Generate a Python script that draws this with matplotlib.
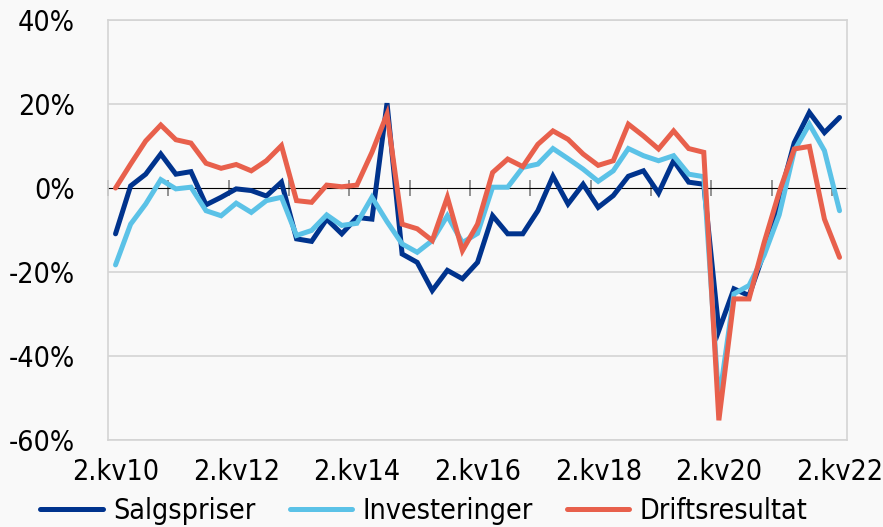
import matplotlib
matplotlib.use("Agg")
import matplotlib.pyplot as plt
import numpy as np

# quarterly change, 2.kv10 .. 2.kv22 (49 quarters)
salgspriser = [-10.9, 0.5, 3.3, 8.1, 3.3, 3.9, -4.0, -2.2, -0.2, -0.6,
               -1.9, 1.4, -12.1, -12.7, -7.4, -10.9, -7.0, -7.4, 20.2, -15.7,
               -17.7, -24.4, -19.6, -21.6, -17.7, -6.6, -10.9, -10.9, -5.4, 2.8,
               -3.8, 0.9, -4.6, -1.8, 2.8, 4.1, -1.2, 6.5, 1.4, 0.9,
               -33.9, -24.0, -25.6, -15.3, -2.6, 10.8, 18.0, 13.2, 16.8]
investeringer = [-18.3, -8.6, -3.8, 2.0, -0.2, 0.2, -5.4, -6.6, -3.6, -5.8,
                 -3.0, -2.2, -11.3, -10.1, -6.4, -8.9, -8.4, -2.2, -8.0, -13.3,
                 -15.3, -12.5, -6.6, -13.0, -10.8, 0.2, 0.2, 4.9, 5.7, 9.4,
                 7.0, 4.5, 1.6, 4.1, 9.4, 7.7, 6.5, 7.7, 3.3, 2.7,
                 -50.9, -25.2, -23.2, -16.0, -6.4, 8.9, 15.2, 8.9, -5.4]
driftsresultat = [0.0, 5.7, 11.2, 15.0, 11.5, 10.7, 5.9, 4.7, 5.6, 4.1,
                  6.5, 10.1, -3.0, -3.4, 0.7, 0.3, 0.7, 8.5, 17.6, -8.6,
                  -9.7, -12.5, -2.2, -14.9, -8.6, 3.7, 6.9, 5.1, 10.4, 13.6,
                  11.6, 8.1, 5.4, 6.5, 15.2, 12.4, 9.3, 13.6, 9.4, 8.5,
                  -55.3, -26.4, -26.4, -13.0, -1.0, 9.3, 9.9, -7.4, -16.5]
x_labels = ["2.kv10", "2.kv12", "2.kv14", "2.kv16", "2.kv18", "2.kv20", "2.kv22"]
y_ticks = [-60, -40, -20, 0, 20, 40]

series = [
    ("Salgspriser", salgspriser, "#00338d"),
    ("Investeringer", investeringer, "#5bc2e7"),
    ("Driftsresultat", driftsresultat, "#e8604c"),
]

bg = "#f9f9f9"
plt.rcParams["font.family"] = ["DejaVu Sans"]
plt.rcParams["font.stretch"] = "condensed"

fig = plt.figure(figsize=(8.83, 5.27), dpi=100, facecolor=bg)
ax = fig.add_axes([0.1223, 0.165, 0.837, 0.797], facecolor=bg)

n = len(salgspriser)
x = np.arange(n)
for name, vals, col in series:
    ax.plot(x, vals, color=col, lw=3.6, label=name, solid_capstyle="round",
            solid_joinstyle="miter")

ax.set_xlim(-0.5, n - 0.5)
ax.set_ylim(-60, 40)
ax.set_yticks(y_ticks)
ax.set_yticklabels([f"{v}%" for v in y_ticks])
ax.set_xticks(np.arange(0, n, 8))
ax.set_xticklabels(x_labels)
ax.tick_params(axis="both", length=0, labelsize=20.5, colors="black")
ax.tick_params(axis="x", pad=13)
ax.tick_params(axis="y", pad=24)

for v in y_ticks:
    if v != 0:
        ax.axhline(v, color="#d4d4d4", lw=1.2, zorder=0)
for s in ax.spines.values():
    s.set_color("#d4d4d4")
    s.set_linewidth(1.2)

# zero axis with tick marks between every fourth quarter
zero = ax.secondary_xaxis(0.6)
zero.set_xticks(np.arange(-0.5, n, 4))
zero.tick_params(direction="inout", length=12, width=1.2, color="#808080",
                 labelbottom=False, labeltop=False)
zero.spines["bottom"].set_color("#808080")
zero.spines["bottom"].set_linewidth(1.5)
zero.set_zorder(0.5)

fig.legend(loc="center", bbox_to_anchor=(0.48, 0.03), ncol=3, frameon=False,
           fontsize=20.5, handlelength=2.2, handletextpad=0.35, columnspacing=1.2)

fig.savefig("out.png", dpi=100, facecolor=bg)
